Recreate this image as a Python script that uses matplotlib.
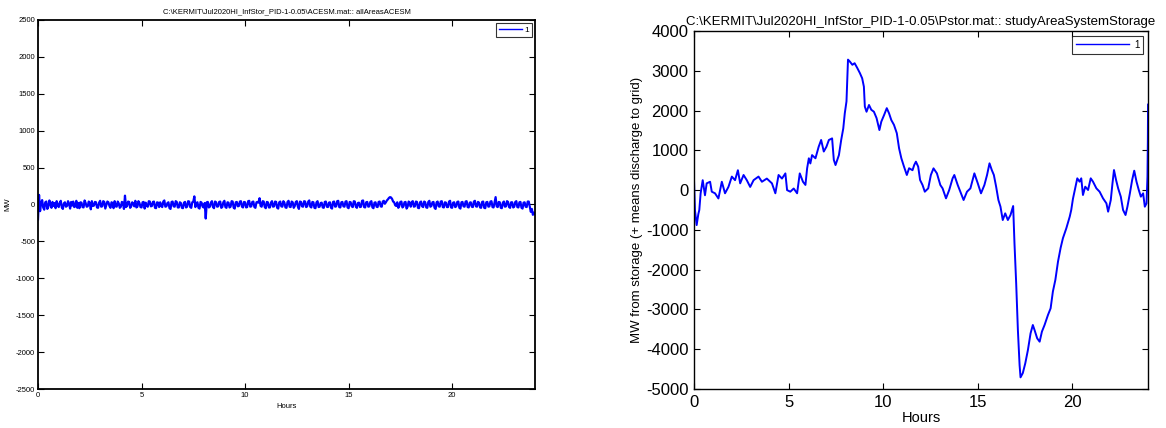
import numpy as np
import matplotlib
matplotlib.use("Agg")
import matplotlib.pyplot as plt

plt.rcParams['font.family'] = ['Liberation Sans', 'DejaVu Sans']
plt.rcParams['axes.unicode_minus'] = False

# --- ACE signal, one sample every 0.05 h (one row per hour) ---
ace_mw = [
    -200, 130, -90, 20, 60, -40, -70, 30, 40, -60, -30, 55, 10, -45, 35, -20, 20, -50, 45, -10,
    -35, 25, 50, -40, -60, 15, 30, -30, -20, 45, 10, -55, 35, -15, 40, -35, -25, 50, -45, 20,
    -50, 30, 25, -35, -40, 55, 20, -30, -25, 40, 15, -65, 45, -20, -15, 35, 30, -40, -45, 25,
    50, -30, -25, 45, 35, -55, -10, 40, 30, -20, -45, 30, 20, -50, 45, -25, -30, 40, 15, -45,
    -30, 35, 25, -60, 120, -35, -20, 40, 35, -45, -25, 30, 10, -25, 50, -40, -30, 45, 20, -35,
    -40, 30, 35, -55, 25, -20, -30, 45, 40, -25, -20, 35, 40, -45, -50, 30, 25, -35, 30, -20,
    -35, 40, 55, -30, -25, 20, 30, -50, -60, 35, 40, -25, -30, 45, 35, -40, -40, 30, 20, -45,
    -50, 25, 35, -40, -30, 45, 40, -35, -45, 30, 40, 110, -35, 20, 30, -45, -55, 35, 25, -30,
    -40, 20, -190, 30, 35, -40, -30, 25, 45, -35, -50, 40, 30, -30, -25, 35, 40, -45, -35, 30,
    50, -35, -45, 30, 25, -40, -30, 45, 40, -45, -55, 30, 35, -25, -20, 40, 45, -30, -40, 35,
    30, -40, -35, 45, 50, -30, -25, 35, 40, -35, -45, 30, 35, 25, 85, -20, -30, 45, 40, -35,
    -50, 35, 30, -40, -40, 25, 45, -30, -25, 40, 35, -45, -55, 30, 40, -25, -30, 45, 25, -40,
    -45, 35, 50, -30, -35, 40, 30, -45, -20, 35, 45, -30, -60, 40, 35, -25, -30, 45, 40, -35,
    -25, 40, 55, -30, -40, 35, 30, -45, -50, 30, 45, -35, -30, 20, 25, -40, -45, 35, 40, -30,
    -35, 25, 30, -45, -55, 35, 40, -30, -25, 45, 50, -35, -40, 30, 35, -25, -30, 40, 45, -40,
    -50, 35, 30, -25, -35, 45, 40, -30, -45, 20, 25, -35, -30, 50, 55, -35, -40, 30, 35, -30,
    -25, 35, 45, -40, -50, 25, 30, -30, -35, 35, 40, -25, -30, 40, 50, 10, 30, 55, 70, 90,
    100, 95, 75, 40, 30, -10, -20, 30, -45, -20, 35, 40, -40, -25, 30, 35, -55, -30, 40, 25,
    -30, 35, 45, -30, -25, 40, 35, -45, -50, 30, 40, -25, -35, 40, 30, -40, -45, 35, 50, -30,
    -20, 30, 35, -45, -60, 30, 40, -25, -30, 40, 45, -35, -40, 30, 25, -35, -35, 40, 50, -40,
    -45, 25, 30, -35, -25, 35, 40, -45, -55, 30, 35, -25, -30, 40, 45, -35, -40, 25, 30, -30,
    -35, 40, 50, -25, -30, 35, 25, -40, -45, 35, 40, -45, -50, 30, 35, -30, -25, 40, 45, -35,
    -40, 30, 100, -25, -35, 35, 30, -45, -50, 25, 40, -30, -25, 45, 35, -35, -45, 30, 30, -40,
    -30, 35, 45, -35, -40, 30, 35, -45, -55, 25, 30, -30, -35, 40, 40, -30, -100, -60, -140, -110,
    -130,
]
ace_hours = np.arange(len(ace_mw)) * 0.05

# --- storage output ---
stor_hours = [
    0.00, 0.05, 0.14, 0.23, 0.28, 0.35, 0.46, 0.58, 0.67, 0.85, 0.94, 1.11,
    1.29, 1.47, 1.64, 1.82, 2.00, 2.17, 2.32, 2.44, 2.62, 2.79, 2.97, 3.15,
    3.41, 3.59, 3.85, 4.12, 4.30, 4.47, 4.65, 4.83, 4.92, 5.09, 5.27, 5.45,
    5.59, 5.76, 5.89, 5.98, 6.07, 6.15, 6.24, 6.42, 6.59, 6.72, 6.86, 7.00,
    7.13, 7.30, 7.39, 7.48, 7.66, 7.78, 7.89, 7.97, 8.06, 8.14, 8.24, 8.37,
    8.49, 8.63, 8.77, 8.89, 8.98, 9.03, 9.12, 9.25, 9.37, 9.51, 9.65, 9.80,
    9.90, 10.05, 10.19, 10.31, 10.43, 10.57, 10.72, 10.84, 10.96, 11.10, 11.25, 11.37,
    11.55, 11.64, 11.73, 11.85, 11.95, 12.08, 12.20, 12.38, 12.52, 12.66, 12.84, 13.02,
    13.14, 13.32, 13.49, 13.67, 13.76, 13.94, 14.11, 14.25, 14.43, 14.61, 14.82, 15.00,
    15.17, 15.35, 15.49, 15.62, 15.74, 15.85, 15.97, 16.09, 16.20, 16.32, 16.45, 16.59,
    16.73, 16.87, 16.94, 17.03, 17.12, 17.21, 17.26, 17.38, 17.51, 17.65, 17.79, 17.91,
    18.00, 18.14, 18.27, 18.39, 18.53, 18.71, 18.85, 18.97, 19.10, 19.24, 19.38, 19.50,
    19.68, 19.86, 19.94, 20.03, 20.15, 20.26, 20.38, 20.47, 20.56, 20.68, 20.83, 20.97,
    21.09, 21.27, 21.44, 21.62, 21.80, 21.89, 22.03, 22.12, 22.20, 22.31, 22.42, 22.56,
    22.68, 22.81, 22.91, 23.04, 23.16, 23.27, 23.39, 23.51, 23.62, 23.74, 23.83, 23.92,
    23.97, 23.99, 24.00,
]
stor_mw = [
    250, -500, -880, -600, -500, -80, 250, -130, 170, 210, -40, -80,
    -210, 210, -80, 80, 340, 250, 500, 170, 380, 250, 80, 250,
    340, 210, 290, 170, -80, 380, 290, 420, 0, -40, 40, -80,
    420, 210, 130, 550, 800, 670, 880, 800, 1090, 1260, 970, 1090,
    1260, 1300, 760, 630, 880, 1260, 1550, 1930, 2230, 3280, 3230, 3150,
    3190, 3070, 2940, 2810, 2600, 2100, 1970, 2140, 2020, 1970, 1810, 1510,
    1720, 1890, 2060, 1930, 1760, 1640, 1430, 1050, 800, 590, 380, 550,
    500, 630, 715, 590, 254, 128, -40, 44, 380, 547, 421, 128,
    44, -207, 3, 296, 380, 128, -81, -249, -40, 44, 421, 170,
    -81, 128, 380, 673, 505, 380, 86, -249, -417, -752, -584, -752,
    -626, -400, -1338, -2344, -3517, -4400, -4707, -4600, -4355, -4020, -3601, -3391,
    -3516, -3726, -3810, -3558, -3391, -3139, -2972, -2550, -2259, -1798, -1450, -1210,
    -960, -667, -500, -220, 44, 296, 212, 296, -123, 86, 3, 296,
    212, 44, -40, -207, -333, -542, -249, 170, 505, 254, 44, -165,
    -500, -626, -417, -81, 254, 488, 212, 3, -165, -81, -417, -333,
    338, 1260, 2150,
]

x_ticks = [0, 5, 10, 15, 20]


def matlab_axes(ax, tick_size, spine_w, pad):
    ax.tick_params(direction='in', top=True, right=True, length=4,
                   width=0.8, labelsize=tick_size, pad=pad)
    for s in ax.spines.values():
        s.set_linewidth(spine_w)


fig = plt.figure(figsize=(11.66, 4.28), dpi=100)

# left: ACE
ax1 = fig.add_axes([0.0326, 0.0911, 0.4262, 0.8622])
ax1.plot(ace_hours, ace_mw, color='blue', lw=1.6, label='1')
ax1.set_xlim(0, 24)
ax1.set_ylim(-2500, 2500)
ax1.set_xticks(x_ticks)
ax1.set_yticks(np.arange(-2500, 2501, 500))
matlab_axes(ax1, 5.5, 1.3, 2)
ax1.set_title(r'C:\KERMIT\Jul2020HI_InfStor_PID-1-0.05\ACESM.mat:: allAreasACESM',
              fontsize=5.5, pad=5)
ax1.set_xlabel('Hours', fontsize=5.5, labelpad=3)
ax1.set_ylabel('MW', fontsize=5.5, labelpad=3)
leg1 = ax1.legend(loc='upper right', fontsize=6, handlelength=2.8,
                  fancybox=False, edgecolor='black', borderaxespad=0.35,
                  borderpad=0.35, handletextpad=0.3)
leg1.get_frame().set_linewidth(0.8)
leg1.get_lines()[0].set_linewidth(1.0)

# right: storage
ax2 = fig.add_axes([0.5952, 0.0911, 0.3894, 0.8365])
ax2.plot(stor_hours, stor_mw, color='blue', lw=1.4, label='1')
ax2.set_xlim(0, 24)
ax2.set_ylim(-5000, 4000)
ax2.set_xticks(x_ticks)
ax2.set_yticks(np.arange(-5000, 4001, 1000))
matlab_axes(ax2, 12, 1.0, 4)
ax2.set_title(r'C:\KERMIT\Jul2020HI_InfStor_PID-1-0.05\Pstor.mat:: studyAreaSystemStorage',
              fontsize=9.5, pad=4)
ax2.set_xlabel('Hours', fontsize=10.5, labelpad=1)
ax2.set_ylabel('MW from storage (+ means discharge to grid)', fontsize=9.5, labelpad=2)
leg2 = ax2.legend(loc='upper right', fontsize=7, handlelength=5.5,
                  fancybox=False, edgecolor='black', borderaxespad=0.5,
                  borderpad=0.4, handletextpad=0.5)
leg2.get_frame().set_linewidth(0.8)
leg2.get_lines()[0].set_linewidth(1.0)

fig.savefig('out.png', dpi=100)
